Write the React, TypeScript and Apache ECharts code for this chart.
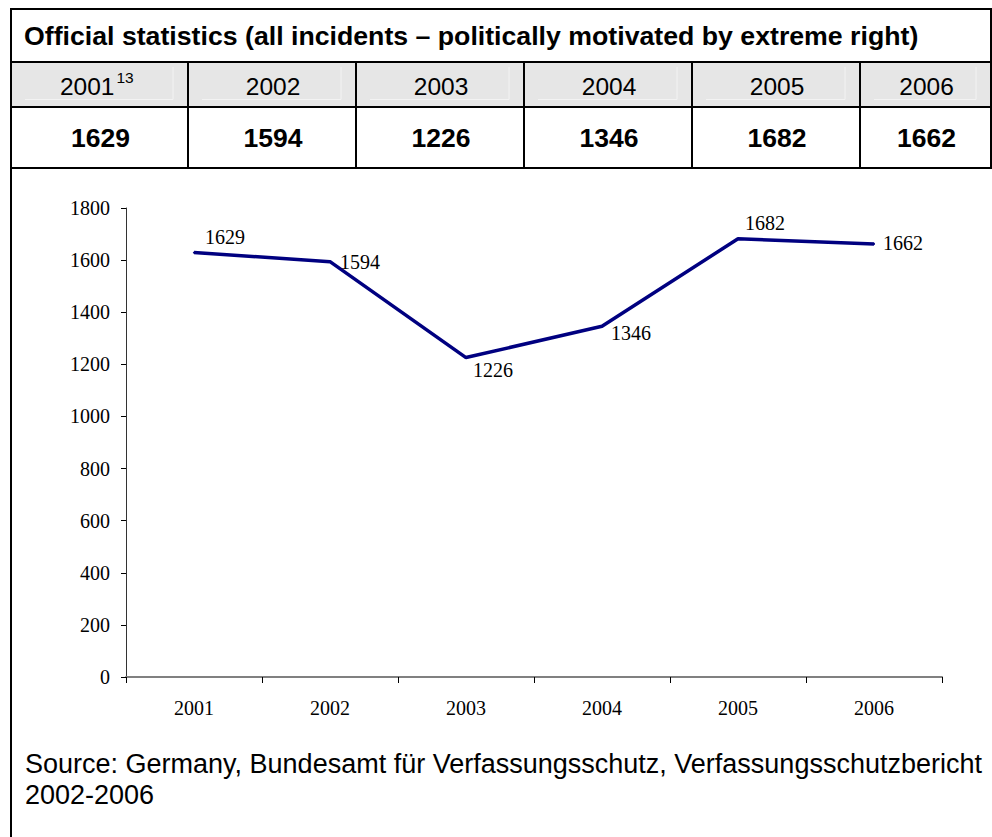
import React, { useEffect, useRef } from 'react';
import * as echarts from 'echarts';

const title = 'Official statistics (all incidents \u2013 politically motivated by extreme right)';
const years = ['2001', '2002', '2003', '2004', '2005', '2006'];
const footnotes = ['13', '', '', '', '', ''];
const incidents = [1629, 1594, 1226, 1346, 1682, 1662];
const sourceLines = [
  'Source: Germany, Bundesamt f\u00fcr Verfassungsschutz, Verfassungsschutzbericht',
  '2002-2006',
];

// layout (pixels)
const colEdges = [11, 188, 356, 524, 692, 860, 991];
const rowEdges = [9, 62, 107, 168];
const labelOffsets = [
  [12, -15],
  [11, 1],
  [8, 13],
  [10, 8],
  [8, -15],
  [10, 0],
];

const SANS = '"Liberation Sans", Arial, Helvetica, sans-serif';
const SERIF = '"Liberation Serif", "Times New Roman", Times, serif';

export default function App() {
  const ref = useRef<HTMLDivElement>(null);

  useEffect(() => {
    if (!ref.current) return;
    const chart = echarts.init(ref.current, null, { renderer: 'svg' });

    const elements: any[] = [];
    const L = colEdges[0];
    const R = colEdges[colEdges.length - 1];

    // header background
    elements.push({
      type: 'rect',
      shape: { x: L, y: rowEdges[1], width: R - L, height: rowEdges[2] - rowEdges[1] },
      style: { fill: '#e6e6e6' },
    });
    // subtle inner lines in header cells
    for (let i = 0; i < colEdges.length - 1; i++) {
      const x0 = colEdges[i] + 14;
      const x1 = colEdges[i + 1] - 15;
      elements.push({
        type: 'polyline',
        shape: { points: [[x0, 99.5], [x1, 99.5], [x1, 67]] },
        style: { stroke: '#f3f3f3', lineWidth: 1, fill: 'none' },
      });
    }

    // horizontal lines
    rowEdges.forEach((y) => {
      elements.push({
        type: 'line',
        shape: { x1: L - 1, y1: y, x2: 992, y2: y },
        style: { stroke: '#000', lineWidth: 2 },
      });
    });
    // outer left border full height
    elements.push({
      type: 'line',
      shape: { x1: L, y1: rowEdges[0] - 1, x2: L, y2: 837 },
      style: { stroke: '#000', lineWidth: 2 },
    });
    // outer right border (table part)
    elements.push({
      type: 'line',
      shape: { x1: R, y1: rowEdges[0] - 1, x2: R, y2: rowEdges[3] },
      style: { stroke: '#000', lineWidth: 2 },
    });
    // column dividers
    for (let i = 1; i < colEdges.length - 1; i++) {
      elements.push({
        type: 'line',
        shape: { x1: colEdges[i], y1: rowEdges[1], x2: colEdges[i], y2: rowEdges[3] },
        style: { stroke: '#000', lineWidth: 2 },
      });
    }

    // title
    elements.push({
      type: 'text',
      x: 24,
      y: 35.5,
      style: {
        text: title,
        fill: '#000',
        fontSize: 26.7,
        fontWeight: 'bold',
        fontFamily: SANS,
        align: 'left',
        textAlign: 'left',
        verticalAlign: 'middle',
        textVerticalAlign: 'middle',
      },
    });

    // header years & values
    years.forEach((yr, i) => {
      const cx = (colEdges[i] + colEdges[i + 1]) / 2;
      if (footnotes[i]) {
        elements.push({
          type: 'text',
          x: cx + 15,
          y: 86.5,
          style: {
            text: yr, fill: '#000', fontSize: 24.5, fontFamily: SANS,
            align: 'right', textAlign: 'right', verticalAlign: 'middle', textVerticalAlign: 'middle',
          },
        });
        elements.push({
          type: 'text',
          x: cx + 17,
          y: 77,
          style: {
            text: footnotes[i], fill: '#000', fontSize: 15.5, fontFamily: SANS,
            align: 'left', textAlign: 'left', verticalAlign: 'middle', textVerticalAlign: 'middle',
          },
        });
      } else {
        elements.push({
          type: 'text',
          x: cx + 1,
          y: 86.5,
          style: {
            text: yr, fill: '#000', fontSize: 24.5, fontFamily: SANS,
            align: 'center', textAlign: 'center', verticalAlign: 'middle', textVerticalAlign: 'middle',
          },
        });
      }
      elements.push({
        type: 'text',
        x: cx + 1,
        y: 138,
        style: {
          text: String(incidents[i]), fill: '#000', fontSize: 26.5, fontWeight: 'bold', fontFamily: SANS,
          align: 'center', textAlign: 'center', verticalAlign: 'middle', textVerticalAlign: 'middle',
        },
      });
    });

    // source
    elements.push({
      type: 'text',
      x: 25,
      y: 748,
      style: {
        text: sourceLines.join('\n'),
        fill: '#000',
        fontSize: 27,
        lineHeight: 31,
        fontFamily: SANS,
        align: 'left',
        textAlign: 'left',
        verticalAlign: 'top',
        textVerticalAlign: 'top',
      },
    });

    const option: any = {
      animation: false,
      backgroundColor: '#fff',
      grid: { left: 126, right: 50, top: 208, bottom: 160, containLabel: false },
      xAxis: {
        type: 'category',
        data: years,
        boundaryGap: true,
        axisLine: { show: true, lineStyle: { color: '#808080', width: 2 } },
        axisTick: { show: true, length: 6, alignWithLabel: false, lineStyle: { color: '#000', width: 1 } },
        axisLabel: { color: '#000', fontSize: 20, fontFamily: SERIF, margin: 21 },
        splitLine: { show: false },
      },
      yAxis: {
        type: 'value',
        min: 0,
        max: 1800,
        interval: 200,
        axisLine: { show: true, lineStyle: { color: '#333', width: 1 } },
        axisTick: { show: true, length: 5, lineStyle: { color: '#000', width: 1 } },
        axisLabel: {
          color: '#000',
          fontSize: 20,
          fontFamily: SERIF,
          margin: 16,
          formatter: (v: number) => String(v),
        },
        splitLine: { show: false },
      },
      series: [
        {
          type: 'line',
          data: incidents.map((v, i) => ({
            value: v,
            label: { position: labelOffsets[i] },
          })),
          symbol: 'circle',
          symbolSize: 2,
          itemStyle: { color: '#000080' },
          lineStyle: { color: '#000080', width: 3.5 },
          label: {
            show: true,
            color: '#000',
            fontSize: 20,
            fontFamily: SERIF,
            align: 'left',
            verticalAlign: 'middle',
          },
          emphasis: { disabled: true },
        },
      ],
      graphic: { elements },
    };

    chart.setOption(option);
    return () => chart.dispose();
  }, []);

  return (
    <div
      ref={ref}
      style={{ position: 'absolute', left: 0, top: 0, width: 992, height: 837, background: '#fff' }}
    />
  );
}
